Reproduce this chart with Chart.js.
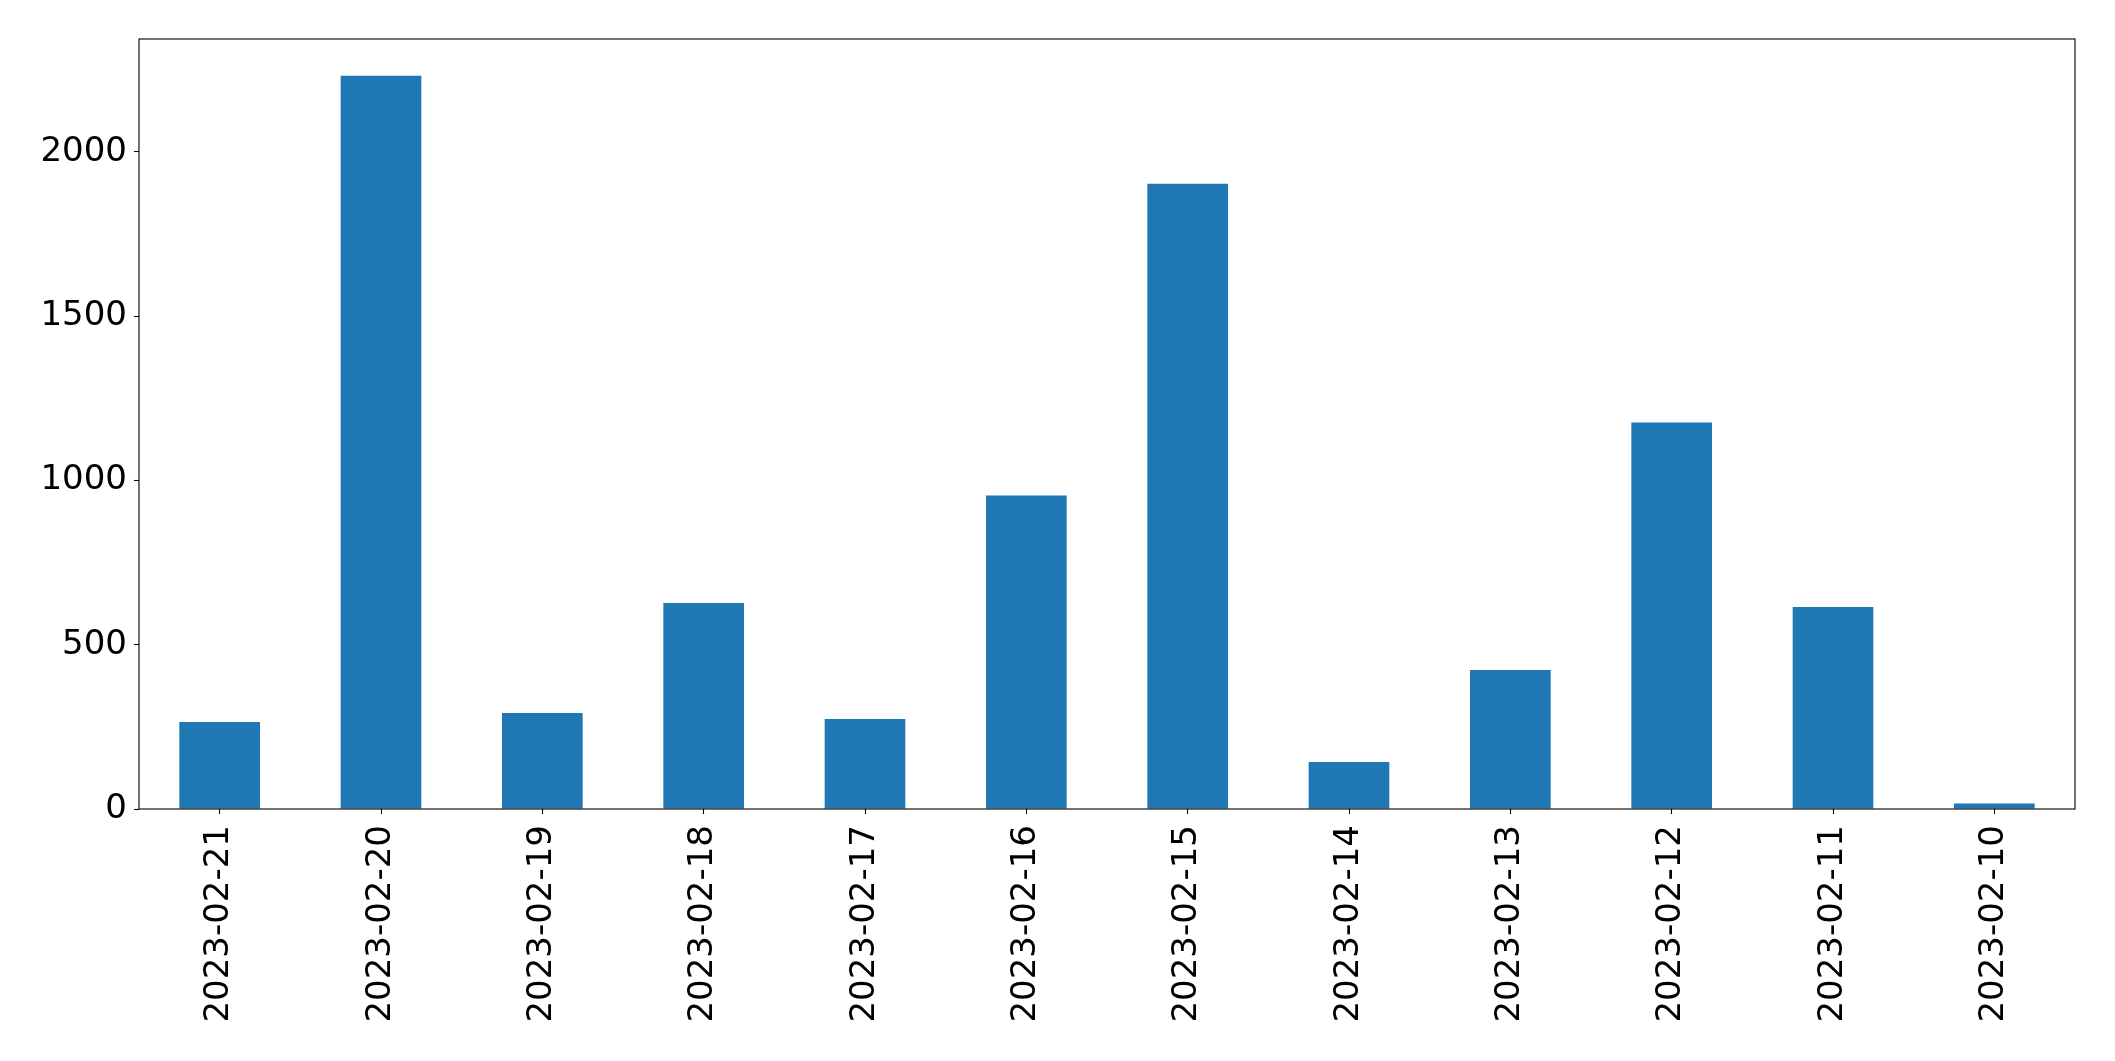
<!DOCTYPE html>
<html>
<head>
<meta charset="utf-8">
<script src="https://cdn.jsdelivr.net/npm/chart.js@4/dist/chart.umd.min.js"></script>
<style>
  html, body { margin: 0; padding: 0; background: #fff; }
  canvas { display: block; }
</style>
</head>
<body>
<canvas id="barChart" width="2115" height="1061"></canvas>
<script>
// data
const dates = ["2023-02-21", "2023-02-20", "2023-02-19", "2023-02-18", "2023-02-17", "2023-02-16",
               "2023-02-15", "2023-02-14", "2023-02-13", "2023-02-12", "2023-02-11", "2023-02-10"];
const counts = [265, 2232, 292, 627, 274, 954, 1903, 143, 423, 1176, 615, 17];
const yTicks = [0, 500, 1000, 1500, 2000];

// matplotlib-like 5% headroom on top
const yMax = Math.max(...counts) * 1.05;

// draw all four spines
const frame = {
  id: 'frame',
  afterDraw(chart) {
    const { ctx, chartArea: a } = chart;
    ctx.save();
    ctx.strokeStyle = '#000';
    ctx.lineWidth = 1.1;
    ctx.strokeRect(a.left, a.top, a.right - a.left, a.bottom - a.top);
    ctx.restore();
  }
};

const font = { family: 'DejaVu Sans', size: 34 };

const config = {
  type: 'bar',
  data: {
    labels: dates,
    datasets: [{
      data: counts,
      backgroundColor: '#1f77b4',
      borderWidth: 0,
      categoryPercentage: 1.0,
      barPercentage: 0.5
    }]
  },
  options: {
    responsive: false,
    animation: false,
    layout: { padding: { left: 0, top: 39, right: 40, bottom: 0 } },
    plugins: { legend: { display: false }, tooltip: { enabled: false } },
    scales: {
      x: {
        offset: true,
        grid: { display: true, offset: false, drawOnChartArea: false, drawTicks: true, tickLength: 5, tickColor: '#000', tickWidth: 1.1 },
        border: { display: false },
        ticks: { color: '#000', font, minRotation: 90, maxRotation: 90, autoSkip: false, padding: 11 },
        afterFit(scale) { scale.height = 252; }
      },
      y: {
        min: 0,
        max: yMax,
        afterBuildTicks(scale) { scale.ticks = yTicks.map(v => ({ value: v })); },
        grid: { display: true, drawOnChartArea: false, drawTicks: true, tickLength: 5, tickColor: '#000', tickWidth: 1.1 },
        border: { display: false },
        ticks: { color: '#000', font, padding: 7, callback: v => String(v) },
        afterFit(scale) { scale.width = 139; }
      }
    }
  },
  plugins: [frame]
};

const myChart = new Chart(document.getElementById('barChart'), config);
</script>
</body>
</html>
